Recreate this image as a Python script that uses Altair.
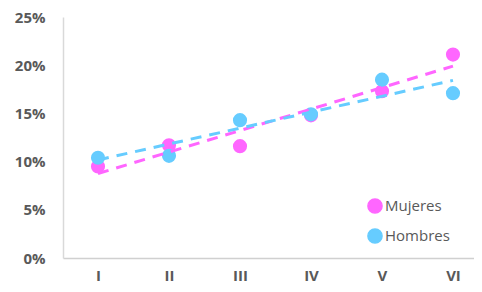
import altair as alt
import pandas as pd

categories = ["I", "II", "III", "IV", "V", "VI"]
mujeres = [0.095, 0.117, 0.116, 0.148, 0.173, 0.211]
hombres = [0.104, 0.106, 0.143, 0.149, 0.185, 0.171]
series = ["Mujeres", "Hombres"]
colors = ["#FF66FF", "#66CCFF"]

rows = []
for s, vals in zip(series, [mujeres, hombres]):
    for i, (c, v) in enumerate(zip(categories, vals)):
        rows.append({"serie": s, "grupo": c, "idx": i + 1, "valor": v})
df = pd.DataFrame(rows)

label_expr = "['', 'I','II','III','IV','V','VI'][datum.value]"
xscale = alt.Scale(domain=[0.507, 6.296], nice=False, zero=False)
yscale = alt.Scale(domain=[0, 0.25], nice=False)
color = alt.Color("serie:N", scale=alt.Scale(domain=series, range=colors),
                  sort=series,
                  legend=alt.Legend(title=None, orient="none", legendX=304, legendY=181,
                                    symbolType="circle", symbolSize=200, labelFontSize=15,
                                    labelColor="#595959", labelFont="Open Sans",
                                    rowPadding=8, symbolOffset=0, labelOffset=2, padding=0))

x = alt.X("idx:Q", scale=xscale,
          axis=alt.Axis(values=[1, 2, 3, 4, 5, 6], labelExpr=label_expr, title=None,
                        ticks=False, grid=False, domainColor="#D0D0D0", domainWidth=1.5,
                        labelFont="Open Sans", labelFontWeight="bold", labelFontSize=15,
                        labelColor="#595959", labelPadding=10))
y = alt.Y("valor:Q", scale=yscale,
          axis=alt.Axis(values=[0, 0.05, 0.1, 0.15, 0.2, 0.25], format=".0%", title=None,
                        ticks=False, grid=False, domainColor="#D9D9D9", domainWidth=1.5,
                        labelFont="Open Sans", labelFontWeight="bold", labelFontSize=15,
                        labelColor="#595959", labelPadding=18))

base = alt.Chart(df)

points = base.mark_circle(size=200, opacity=1).encode(x=x, y=y, color=color)

trend = base.transform_regression("idx", "valor", groupby=["serie"]).mark_line(
    strokeWidth=3, strokeDash=[11, 8]
).encode(x=x, y=y, color=alt.Color("serie:N", scale=alt.Scale(domain=series, range=colors), legend=None))

chart = alt.layer(points, trend).properties(
    width=411, height=241,
    autosize=alt.AutoSizeParams(type="none"),
    padding={"left": 55, "top": 9, "right": 0, "bottom": 26},
).configure_view(stroke=None)

chart.save("out.html", embed_options={"renderer": "svg", "actions": False})
